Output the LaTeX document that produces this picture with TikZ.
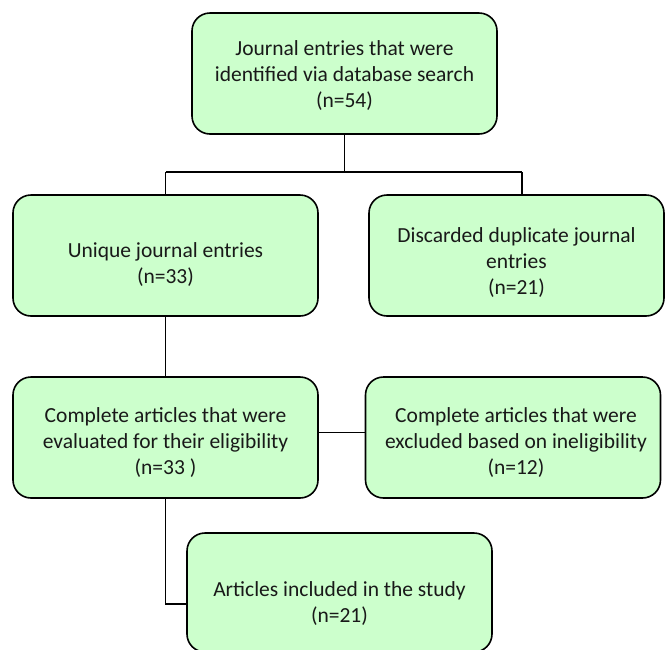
\documentclass[tikz,border=0pt]{standalone}
\usepackage{fontspec}
\setmainfont{Carlito}
\definecolor{boxgreen}{RGB}{204,255,204}
\tikzset{
  box/.style={draw=black, line width=1.6pt, fill=boxgreen, rounded corners=18pt, inner sep=0pt},
  boxtext/.style={align=center, font=\fontsize{21.5}{26}\selectfont, inner sep=0pt, text=black!90},
  conn/.style={draw=black, line width=1.6pt}
}
\begin{document}
\begin{tikzpicture}[x=1pt,y=-1pt]
\useasboundingbox (0,0) rectangle (666,649);
% boxes
\node[box, minimum width=305pt, minimum height=121pt] (top) at (344.5,73.5) {};
\node[box, minimum width=305pt, minimum height=121pt] (b2) at (165.5,255.5) {};
\node[box, minimum width=295pt, minimum height=121pt] (b3) at (516.5,255.5) {};
\node[box, minimum width=305pt, minimum height=121pt] (b4) at (165.5,437.5) {};
\node[box, minimum width=295pt, minimum height=121pt] (b5) at (513,437.5) {};
\node[box, minimum width=305pt, minimum height=119pt] (b6) at (339.5,592.5) {};
% texts
\node[boxtext] (ttop) at (344.5,76) {Journal entries that were\\identified via database search\\(n=54)};
\node[boxtext] (tb2) at (165.5,265) {Unique journal entries\\(n=33)};
\node[boxtext] (tb3) at (516.5,263) {Discarded duplicate journal\\entries\\(n=21)};
\node[boxtext] (tb4) at (165.5,443) {Complete articles that were\\evaluated for their eligibility\\(n=33 )};
\node[boxtext] (tb5) at (516,443) {Complete articles that were\\excluded based on ineligibility\\(n=12)};
\node[boxtext] (tb6) at (339.5,604) {Articles included in the study\\(n=21)};
% connectors
\coordinate (j1) at (344.5,172);
\coordinate (j2) at (165.5,172);
\coordinate (j3) at (522,172);
\draw[conn] (top.south) -- (j1);
\draw[conn] (j2) -- (j3);
\draw[conn] (j2) -- (b2.north);
\draw[conn] (j3) -- (j3 |- b3.north);
\draw[conn] (b2.south) -- (b4.north);
\draw[conn] ([yshift=5pt]b4.east) -- ([yshift=5pt]b5.west);
\draw[conn] (b4.south) |- ([yshift=-11.5pt]b6.west);
\end{tikzpicture}
\end{document}
